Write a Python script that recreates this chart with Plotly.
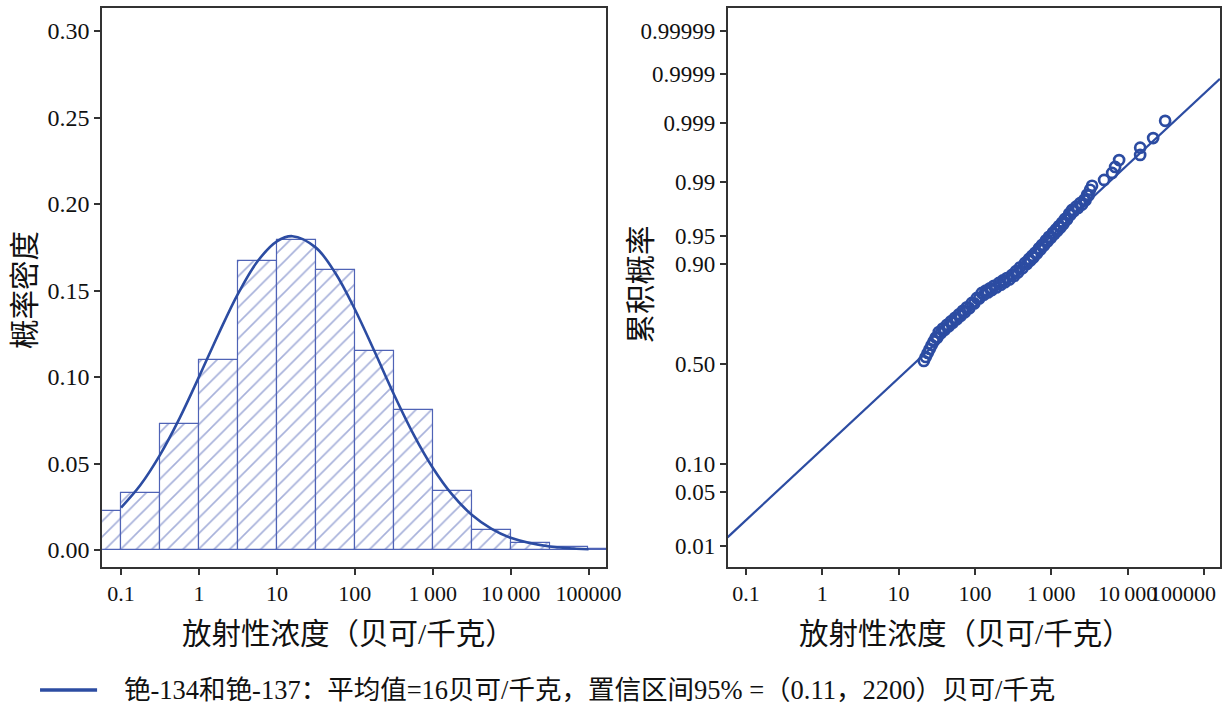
import numpy as np
import plotly.graph_objects as go
from statistics import NormalDist

# ---------------- data ----------------
# histogram (left panel): bin edges in Bq/kg (half-decade bins) and bar heights
BIN_EDGES = [0.0316, 0.1, 0.316, 1, 3.16, 10, 31.6, 100, 316, 1000, 3162, 10000, 31623, 100000, 316228]
HIST_HEIGHTS = [0.0225, 0.033, 0.073, 0.110, 0.167, 0.179, 0.162, 0.115, 0.081, 0.034, 0.0115, 0.004, 0.002, 0.0008]

# fitted density curve
CURVE_CONC = [0.1, 0.178, 0.316, 0.562, 1, 1.78, 3.16, 5.62, 10, 15.8, 31.6, 56.2, 100, 178,
              316, 562, 1000, 1778, 3162, 5623, 10000, 31623, 100000]
CURVE_DENS = [0.0245, 0.0377, 0.055, 0.0761, 0.1001, 0.1249, 0.1481, 0.1668, 0.1784, 0.1814,
              0.1748, 0.1601, 0.1392, 0.1150, 0.0902, 0.0672, 0.0476, 0.0320, 0.0204, 0.0124,
              0.0071, 0.0020, 0.0005]

# probability plot (right panel): sample concentrations and cumulative probabilities
SAMPLE_CONC = [21.4, 22.7, 24.1, 25.6, 27.2, 28.9, 30.7, 33.6, 37.9, 42.8, 48.3, 54.5, 61.5, 69.4,
               78.3, 91.1, 106, 123, 139, 157, 177, 206, 232, 262, 305, 344, 388, 452, 510, 558,
               611, 690, 755, 852, 933, 1050, 1150, 1260, 1380, 1510, 1710, 1870, 2110, 2380,
               2690, 2940, 3220, 3420, 4920, 6270, 6860, 7740, 14600, 14600, 21600, 31000,
               32.1, 35.7, 40.3, 45.4, 51.3, 57.9, 65.3, 73.7, 84.4, 98.2, 114, 131, 148, 167,
               191, 219, 247, 283, 324, 366, 419, 480, 533, 584, 649, 722, 802, 892, 991, 1100,
               1206, 1320, 1446, 1607, 1786, 1986, 2241, 2529, 2811, 3078]
SAMPLE_PROB = [0.5153, 0.5357, 0.5561, 0.5762, 0.5962, 0.6145, 0.6325, 0.6592, 0.6755, 0.6915,
               0.7071, 0.7223, 0.7372, 0.7520, 0.7660, 0.7829, 0.8013, 0.8187, 0.8267, 0.8341,
               0.8416, 0.8505, 0.8578, 0.8646, 0.8731, 0.8827, 0.8918, 0.9023, 0.9109, 0.9169,
               0.9226, 0.9308, 0.9364, 0.9435, 0.9483, 0.9538, 0.9577, 0.9614, 0.9647, 0.9684,
               0.9728, 0.9758, 0.9781, 0.9803, 0.9822, 0.9849, 0.9872, 0.9888, 0.9908, 0.9928,
               0.9942, 0.9955, 0.9963, 0.9972, 0.9981, 0.99908,
               0.6315, 0.6533, 0.6697, 0.6858, 0.7015, 0.7172, 0.7321, 0.7467, 0.7628, 0.7810,
               0.7995, 0.8125, 0.8203, 0.8283, 0.8367, 0.8450, 0.8526, 0.8607, 0.8698, 0.8796,
               0.8901, 0.9001, 0.9077, 0.9139, 0.9213, 0.9286, 0.9353, 0.9416, 0.9472, 0.9521,
               0.9562, 0.9598, 0.9636, 0.9680, 0.9720, 0.9749, 0.9772, 0.9794, 0.9820, 0.9846]

# fitted line in the probability plot
LINE_CONC = [0.0575, 162000]
LINE_PROB = [0.0132, 0.99987]

X_TICK_VALUES = [0.1, 1, 10, 100, 1000, 10000, 100000]
X_TICK_LABELS = ["0.1", "1", "10", "100", "1\u2009000", "10\u2009000", "100000"]
LEFT_Y_TICKS = [0.0, 0.05, 0.10, 0.15, 0.20, 0.25, 0.30]
PROB_TICKS = [0.01, 0.05, 0.10, 0.50, 0.90, 0.95, 0.99, 0.999, 0.9999, 0.99999]
PROB_TICK_LABELS = ["0.01", "0.05", "0.10", "0.50", "0.90", "0.95", "0.99", "0.999", "0.9999", "0.99999"]

X_TITLE = "放射性浓度（贝可/千克）"
LEFT_Y_TITLE = "概率密度"
RIGHT_Y_TITLE = "累积概率"
LEGEND_TEXT = "铯-134和铯-137：平均值=16贝可/千克，置信区间95% =（0.11，2200）贝可/千克"

# ---------------- styling ----------------
RW, H = 1229, 704          # reference canvas used for placing things (paper fractions)
FIG_W = 1245               # drawn width (the page capture narrows it to 1229)
CURVE_COLOR = "#2c4ca2"
BAR_COLOR = "#4f63b6"
AXIS_COLOR = "#333333"
SERIF = "Liberation Serif, Times New Roman, serif"
XTICK_FONT = dict(family=SERIF, size=22, color="#111111")
CJK_FONT = dict(family="Liberation Serif, Noto Sans CJK SC, serif", size=29.5, color="#111111")

nd = NormalDist()
log_edges = np.log10(np.array(BIN_EDGES))
bar_x = (log_edges[:-1] + log_edges[1:]) / 2
bar_w = log_edges[1:] - log_edges[:-1]

fig = go.Figure()

fig.add_trace(go.Bar(
    x=bar_x, y=HIST_HEIGHTS, width=bar_w,
    marker=dict(color="white",
                line=dict(color=BAR_COLOR, width=1.2),
                pattern=dict(shape="/", fgcolor=BAR_COLOR, bgcolor="white", size=11, solidity=0.15)),
    xaxis="x", yaxis="y", showlegend=False, hoverinfo="skip"))

fig.add_trace(go.Scatter(
    x=np.log10(CURVE_CONC), y=CURVE_DENS, mode="lines", line_shape="spline",
    line=dict(color=CURVE_COLOR, width=2.6), xaxis="x", yaxis="y", showlegend=False))

fig.add_trace(go.Scatter(
    x=LINE_CONC, y=[nd.inv_cdf(p) for p in LINE_PROB], mode="lines",
    line=dict(color=CURVE_COLOR, width=2.2), xaxis="x2", yaxis="y2", showlegend=False))

fig.add_trace(go.Scatter(
    x=SAMPLE_CONC, y=[nd.inv_cdf(p) for p in SAMPLE_PROB], mode="markers",
    marker=dict(symbol="circle-open", size=10, color=CURVE_COLOR, line=dict(width=2.7, color=CURVE_COLOR)),
    xaxis="x2", yaxis="y2", showlegend=False))

axis_common = dict(showline=True, linecolor=AXIS_COLOR, linewidth=1.5, mirror=True,
                   ticks="outside", ticklen=6, tickwidth=1.5, tickcolor=AXIS_COLOR,
                   showgrid=False, zeroline=False)

# right axis: the last label is written right-aligned inside the canvas (as in the original)
RIGHT_X_LABELS = X_TICK_LABELS[:-1] + [""]

y_dom = [1 - 567 / H, 1 - 8 / H]
fig.update_layout(
    width=FIG_W, height=H, autosize=False,
    margin=dict(l=0, r=0, t=0, b=0),
    paper_bgcolor="white", plot_bgcolor="white",
    bargap=0,
    xaxis=dict(domain=[102 / RW, 606 / RW], range=[-1.244, 5.23], tickfont=XTICK_FONT, tickangle=0,
               tickvals=np.log10(X_TICK_VALUES), ticktext=X_TICK_LABELS, anchor="y", **axis_common),
    yaxis=dict(domain=y_dom, range=[-0.0098, 0.3133], tickvals=LEFT_Y_TICKS,
               tickfont=dict(family=SERIF, size=24, color="#111111"),
               ticktext=[f"{v:.2f}" for v in LEFT_Y_TICKS], anchor="x", **axis_common),
    xaxis2=dict(domain=[727 / RW, 1219 / RW], type="log", range=[-1.24, 5.21], tickfont=XTICK_FONT,
                tickangle=0, tickvals=X_TICK_VALUES, ticktext=RIGHT_X_LABELS, anchor="y2", **axis_common),
    yaxis2=dict(domain=y_dom, range=[-2.60, 4.56],
                tickfont=dict(family=SERIF, size=23, color="#111111"),
                tickvals=[nd.inv_cdf(p) for p in PROB_TICKS], ticktext=PROB_TICK_LABELS,
                anchor="x2", **axis_common),
)

annotations = [
    dict(text=X_TICK_LABELS[-1], x=1217 / RW, y=1 - 593 / H, xref="paper", yref="paper",
         xanchor="right", yanchor="middle", showarrow=False, font=XTICK_FONT),
    dict(text=X_TITLE, x=348 / RW, y=1 - 634 / H, xref="paper", yref="paper",
         xanchor="center", yanchor="middle", showarrow=False, font=CJK_FONT),
    dict(text=X_TITLE, x=965 / RW, y=1 - 634 / H, xref="paper", yref="paper",
         xanchor="center", yanchor="middle", showarrow=False, font=CJK_FONT),
    dict(text=LEFT_Y_TITLE, x=25 / RW, y=1 - 290 / H, xref="paper", yref="paper", textangle=-90,
         xanchor="center", yanchor="middle", showarrow=False, font=CJK_FONT),
    dict(text=RIGHT_Y_TITLE, x=640 / RW, y=1 - 285 / H, xref="paper", yref="paper", textangle=-90,
         xanchor="center", yanchor="middle", showarrow=False, font=CJK_FONT),
    dict(text=LEGEND_TEXT, x=122 / RW, y=1 - 690 / H, xref="paper", yref="paper",
         xanchor="left", yanchor="middle", showarrow=False,
         font=dict(family="Liberation Serif, Noto Sans CJK SC, serif", size=26.5, color="#111111")),
]
fig.update_layout(annotations=annotations)
fig.add_shape(type="line", xref="paper", yref="paper", x0=40 / RW, x1=97 / RW,
              y0=1 - 690 / H, y1=1 - 690 / H, line=dict(color=CURVE_COLOR, width=3.5))

fig.write_html("out.html",
               config={"responsive": False, "displayModeBar": False},
               post_script="document.body.style.margin='0';document.body.style.overflow='hidden';")
